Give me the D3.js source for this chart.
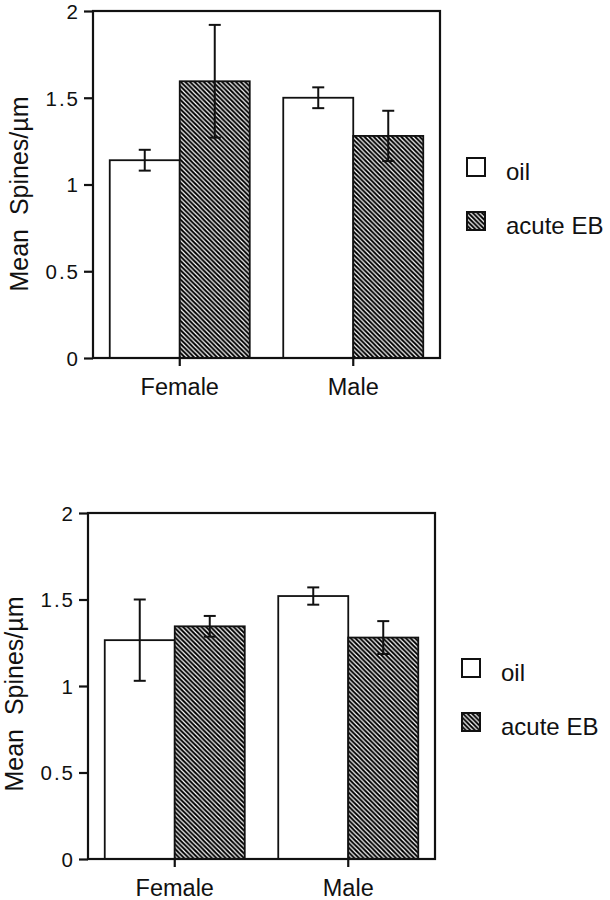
<!DOCTYPE html>
<html>
<head>
<meta charset="utf-8">
<script src="https://cdn.jsdelivr.net/npm/d3@7"></script>
<style>
  html, body { margin: 0; padding: 0; background: #fff; }
  svg { display: block; }
  text { font-family: "Liberation Sans", Arial, Helvetica, sans-serif; fill: #111; }
  .ytick { font-size: 20.5px; letter-spacing: 2px; }
</style>
</head>
<body>
<script>
// ---------- data ----------
const categories = ["Female", "Male"];
const series = ["oil", "acute EB"];
const yTicks = [0, 0.5, 1, 1.5, 2];
const yTickLabels = ["0", "0.5", "1", "1.5", "2"];
const yTitle = "Mean  Spines/\u00B5m";

// top panel: mean and SEM per category, per series
const topOil = [1.14, 1.50];
const topOilErr = [0.06, 0.06];
const topEB = [1.595, 1.28];
const topEBErr = [0.325, 0.145];

// bottom panel
const botOil = [1.265, 1.52];
const botOilErr = [0.235, 0.05];
const botEB = [1.345, 1.28];
const botEBErr = [0.06, 0.095];

// ---------- drawing ----------
const W = 610, H = 900;
const svg = d3.select("body").append("svg").attr("width", W).attr("height", H);

const defs = svg.append("defs");
const P = 4.6;
const pat = defs.append("pattern")
  .attr("id", "hatch")
  .attr("patternUnits", "userSpaceOnUse")
  .attr("width", P).attr("height", P);
pat.append("rect").attr("width", P).attr("height", P).attr("fill", "#000");
pat.append("path")
  .attr("d", `M${-P},0 L${P},${2 * P} M0,0 L${P},${P} M0,${-P} L${2 * P},${P}`)
  .attr("stroke", "#fff").attr("stroke-width", 1.2);

function panel(cfg) {
  const { left, top, right, bottom, oil, oilErr, eb, ebErr, legX, legY } = cfg;
  const g = svg.append("g");

  const x = d3.scaleBand().domain(categories).range([left, right]).paddingInner(0).paddingOuter(0);
  const y = d3.scaleLinear().domain([0, 2]).range([bottom, top]);
  const sub = d3.scaleBand().domain(series).range([0, 140]);
  const barW = sub.bandwidth();

  const rows = [];
  categories.forEach((c, i) => {
    rows.push({ cat: c, s: "oil", v: oil[i], e: oilErr[i] });
    rows.push({ cat: c, s: "acute EB", v: eb[i], e: ebErr[i] });
  });
  const bx = d => x(d.cat) + x.bandwidth() / 2 - 70 + sub(d.s);

  // bars
  g.selectAll("rect.bar").data(rows).join("rect")
    .attr("class", "bar")
    .attr("x", bx)
    .attr("y", d => y(d.v))
    .attr("width", barW)
    .attr("height", d => y(0) - y(d.v))
    .attr("fill", d => d.s === "oil" ? "#fff" : "url(#hatch)")
    .attr("stroke", "#111")
    .attr("stroke-width", 1.8);

  // error bars
  const eg = g.selectAll("g.err").data(rows).join("g").attr("class", "err")
    .attr("stroke", "#111").attr("stroke-width", 2);
  eg.append("line")
    .attr("x1", d => bx(d) + barW / 2).attr("x2", d => bx(d) + barW / 2)
    .attr("y1", d => y(d.v + d.e)).attr("y2", d => y(d.v - d.e));
  eg.append("line")
    .attr("x1", d => bx(d) + barW / 2 - 6).attr("x2", d => bx(d) + barW / 2 + 6)
    .attr("y1", d => y(d.v + d.e)).attr("y2", d => y(d.v + d.e));
  eg.append("line")
    .attr("x1", d => bx(d) + barW / 2 - 6).attr("x2", d => bx(d) + barW / 2 + 6)
    .attr("y1", d => y(d.v - d.e)).attr("y2", d => y(d.v - d.e));

  // frame
  g.append("rect")
    .attr("x", left).attr("y", top)
    .attr("width", right - left).attr("height", bottom - top)
    .attr("fill", "none").attr("stroke", "#111").attr("stroke-width", 2.2);

  // y axis
  const yAxis = d3.axisLeft(y).tickValues(yTicks).tickSize(9).tickPadding(6)
    .tickFormat((d, i) => yTickLabels[i]);
  const ya = g.append("g").attr("transform", `translate(${left},0)`).call(yAxis);
  ya.select(".domain").remove();
  ya.selectAll(".tick line").attr("stroke", "#111").attr("stroke-width", 2.2);
  ya.selectAll(".tick text")
    .attr("class", "ytick")
    .attr("fill", "#111")
    .attr("dx", 2)
    .attr("dy", "0.36em");

  // x axis
  const xAxis = d3.axisBottom(x).tickSize(8).tickPadding(12);
  const xa = g.append("g").attr("transform", `translate(0,${bottom})`).call(xAxis);
  xa.select(".domain").remove();
  xa.selectAll(".tick line").attr("stroke", "#111").attr("stroke-width", 2.2);
  xa.selectAll(".tick text").style("font-size", "23.5px").attr("fill", "#111")
    .attr("dy", "0.71em").attr("y", 20);

  // y title
  g.append("text")
    .attr("transform", `translate(${cfg.titleX},${cfg.titleY}) rotate(-90)`)
    .attr("text-anchor", "middle")
    .style("font-size", "25px")
    .style("white-space", "pre")
    .text(yTitle);

  // legend
  const lg = g.append("g");
  series.forEach((s, i) => {
    lg.append("rect")
      .attr("x", legX).attr("y", legY + i * 54)
      .attr("width", 18).attr("height", 18)
      .attr("fill", s === "oil" ? "#fff" : "url(#hatch)")
      .attr("stroke", "#111").attr("stroke-width", 2);
    lg.append("text")
      .attr("x", legX + 39).attr("y", legY + i * 54 + 22)
      .style("font-size", "24px")
      .text(s);
  });
}

panel({ left: 93, top: 11, right: 440, bottom: 358,
  oil: topOil, oilErr: topOilErr, eb: topEB, ebErr: topEBErr,
  legX: 467, legY: 158, titleX: 28, titleY: 194 });

panel({ left: 88, top: 513, right: 435, bottom: 859,
  oil: botOil, oilErr: botOilErr, eb: botEB, ebErr: botEBErr,
  legX: 462, legY: 659, titleX: 23, titleY: 694 });
</script>
</body>
</html>
